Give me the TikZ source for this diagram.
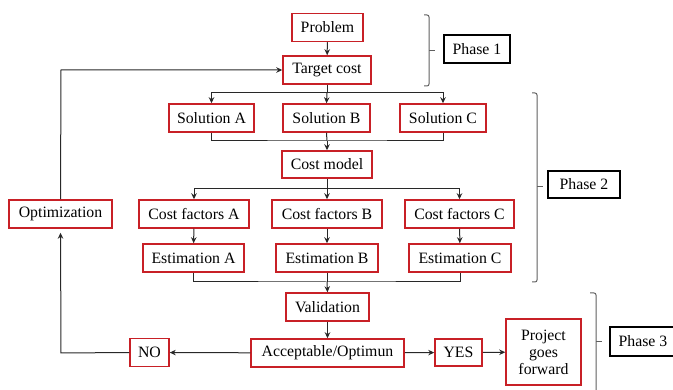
\documentclass[tikz,border=0pt]{standalone}
\usepackage{fontspec}
\setmainfont{Liberation Serif}
\usetikzlibrary{arrows.meta}
\definecolor{boxred}{RGB}{200,32,38}
\definecolor{linegray}{RGB}{40,40,40}
\definecolor{brgray}{RGB}{95,95,95}
\begin{document}
\begin{tikzpicture}[x=1pt,y=-1pt,
  box/.style={draw=boxred,line width=1.5pt,inner sep=0pt,minimum height=28pt,
    font=\fontsize{15.8}{18}\selectfont,align=center,fill=white},
  phbox/.style={draw=black,line width=1.4pt,inner sep=0pt,minimum height=28pt,
    minimum width=66pt,font=\fontsize{15.8}{18}\selectfont},
  conn/.style={draw=linegray,line width=1pt},
  arr/.style={conn,-{Stealth[length=6pt,width=5.5pt]}},
  brk/.style={draw=brgray,line width=1pt,rounded corners=2pt}]
\useasboundingbox (0,0) rectangle (673,390);
% nodes
\node[box,minimum width=71pt] (prob) at (327.5,27.5) {Problem};
\node[box,minimum width=88pt] (tc) at (327,70) {Target cost};
\node[box,minimum width=85pt] (sA) at (211.5,118) {Solution A};
\node[box,minimum width=87pt] (sB) at (326.5,118) {Solution B};
\node[box,minimum width=86pt] (sC) at (443,118) {Solution C};
\node[box,minimum width=90pt,minimum height=27pt] (cm) at (327,164.5) {Cost model};
\node[box,minimum width=110pt] (cfA) at (194,214) {Cost factors A};
\node[box,minimum width=110pt] (cfB) at (327,214) {Cost factors B};
\node[box,minimum width=109pt] (cfC) at (459.5,214) {Cost factors C};
\node[box,minimum width=101pt] (eA) at (193.5,258) {Estimation A};
\node[box,minimum width=102pt] (eB) at (327,258) {Estimation B};
\node[box,minimum width=102pt] (eC) at (460,258) {Estimation C};
\node[box,minimum width=103pt] (opt) at (60.5,214) {Optimization};
\node[box,minimum width=83pt] (val) at (327.5,307) {Validation};
\node[box,minimum width=153pt] (acc) at (327.5,353) {Acceptable/Optimun};
\node[box,minimum width=39pt] (no) at (149.5,352.5) {NO};
\node[box,minimum width=47pt,minimum height=27pt] (yes) at (458.5,352.5) {YES};
\node[box,minimum width=75pt,minimum height=66pt] (pgf) at (543.5,352) {Project\\[-1pt]goes\\[-1pt]forward};
\node[phbox] (p1) at (477,49) {Phase 1};
\node[phbox,minimum height=27pt,minimum width=72pt] (p2) at (584,184.5) {Phase 2};
\node[phbox,minimum height=29pt] (p3) at (643,341.5) {Phase 3};
% junction coordinates
\coordinate (j1) at (327,93);
\coordinate (j2) at (327,141);
\coordinate (j3) at (327,189);
\coordinate (j4) at (327,282);
\coordinate (fl) at (61,353);
\coordinate (ft) at (61,70);
% connectors
\draw[arr] (prob) -- (tc);
\draw[conn] (tc.south) -- (j1);
\draw[arr] (j1) -- (sB.north);
\draw[arr] (j1) -| (sA.north);
\draw[arr] (j1) -| (sC.north);
\draw[conn] (sA.south) |- (j2) -| (sC.south);
\draw[conn] (sB.south) -- (j2);
\draw[arr] (j2) -- (cm.north);
\draw[conn] (cm.south) -- (j3);
\draw[arr] (j3) -- (cfB.north);
\draw[arr] (j3) -| (cfA.north);
\draw[arr] (j3) -| (cfC.north);
\draw[arr] (cfA) -- (eA);
\draw[arr] (cfB) -- (eB);
\draw[arr] (cfC) -- (eC);
\draw[conn] (eA.south) |- (j4) -| (eC.south);
\draw[conn] (eB.south) -- (j4);
\draw[arr] (j4) -- (val.north);
\draw[arr] (val) -- (acc);
\draw[arr] (acc) -- (no);
\draw[arr] (acc) -- (yes);
\draw[arr] (yes) -- (pgf);
\draw[arr,shorten >=4pt] (no.west) -- (fl) -- (opt.south);
\draw[arr] (opt.north) -- (ft) -- (tc.west);
% brackets
\draw[brk] (424,15) -- (429,15) -- (429,86) -- (424,86);
\draw[brk] (429,51) -- (435,51);
\draw[brk] (532,93) -- (537,93) -- (537,282) -- (532,282);
\draw[brk] (537,187) -- (543,187);
\draw[brk] (590,293) -- (596,293) -- (596,400);
\draw[brk] (596,342) -- (602,342);
\end{tikzpicture}
\end{document}
